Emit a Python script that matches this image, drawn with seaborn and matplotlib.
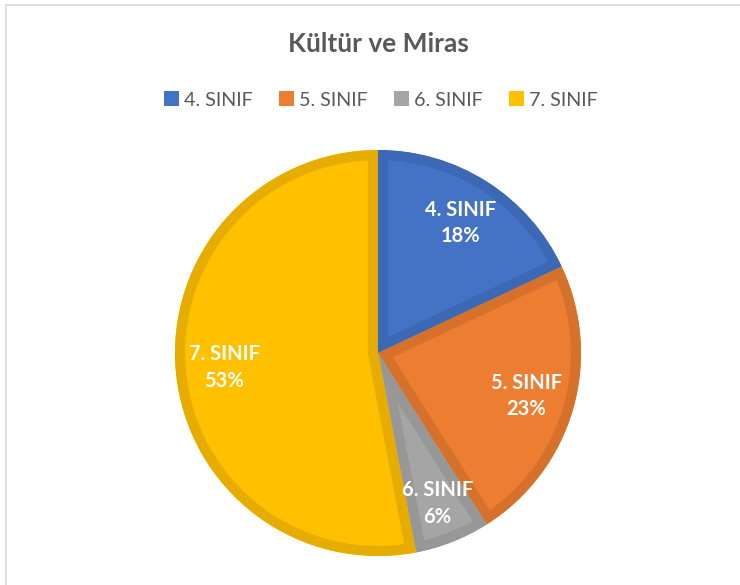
import matplotlib
matplotlib.use("Agg")
import matplotlib.pyplot as plt
from matplotlib.patches import Patch, PathPatch
from matplotlib.lines import Line2D
import seaborn as sns

categories = ["4. SINIF", "5. SINIF", "6. SINIF", "7. SINIF"]
values = [18, 23, 6, 53]
title = "Kültür ve Miras"

sns.set_theme(style="white")
plt.rcParams['font.family'] = ['Lato', 'DejaVu Sans']

fill_colors = sns.color_palette(["#4472C4", "#ED7D31", "#A5A5A5", "#FFC000"])
edge_colors = sns.color_palette(["#3C68B5", "#D6712B", "#979797", "#E6AD00"])

W, H = 740, 585
fig = plt.figure(figsize=(W / 100, H / 100), dpi=100)
fig.patch.set_facecolor("white")

# pie axes positioned so that centre ~ (378, 353) px, radius ~ 203 px
cx, cy, r = 378, 353, 203
half = 1.1 * r
ax = fig.add_axes([(cx - half) / W, (H - cy - half) / H, 2 * half / W, 2 * half / H])
ax.set_xlim(-1.1, 1.1)
ax.set_ylim(-1.1, 1.1)

wedges, texts = ax.pie(
    values,
    colors=fill_colors,
    startangle=90,
    counterclock=False,
    radius=1.0,
    labels=[f"{c}\n{v}%" for c, v in zip(categories, values)],
    labeldistance=0.76,
    textprops=dict(color="white", fontsize=14.5, fontweight="bold",
                   ha="center", va="center", linespacing=1.4),
    wedgeprops=dict(linewidth=0),
)
ax.set_xlim(-1.1, 1.1)
ax.set_ylim(-1.1, 1.1)
ax.set_aspect("equal")
ax.axis("off")

# inner border: a stroke of each wedge's own outline, clipped to that wedge
for w, ec in zip(wedges, edge_colors):
    path = w.get_path()
    border = PathPatch(path, transform=w.get_transform(), facecolor="none",
                       edgecolor=ec, linewidth=14.5, joinstyle="miter", zorder=3)
    ax.add_patch(border)
    border.set_clip_path(path, w.get_transform())

# slight per-label tweak for small slice
texts[2].set_position((texts[2].get_position()[0] * 1.05, texts[2].get_position()[1] * 1.05))
for t in texts:
    t.set_zorder(5)

fig.text(378 / W, 1 - 44 / H, title, ha="center", va="center",
         fontsize=19, fontweight="bold", color="#595959")

handles = [Patch(facecolor=c, edgecolor="none") for c in fill_colors]
fig.legend(handles, categories, loc="center", bbox_to_anchor=(381 / W, 1 - 100 / H),
           ncol=4, frameon=False, fontsize=14.2, labelcolor="#595959",
           handlelength=0.75, handleheight=0.75, handletextpad=0.25,
           columnspacing=1.35, borderaxespad=0)

# light chart-area border (top and left)
fig.add_artist(Line2D([6 / W, 6 / W], [0, 1 - 5 / H], color="#D9D9D9", lw=1.2))
fig.add_artist(Line2D([6 / W, 1], [1 - 5 / H, 1 - 5 / H], color="#D9D9D9", lw=1.2))

fig.savefig("out.png", dpi=100, facecolor="white")
